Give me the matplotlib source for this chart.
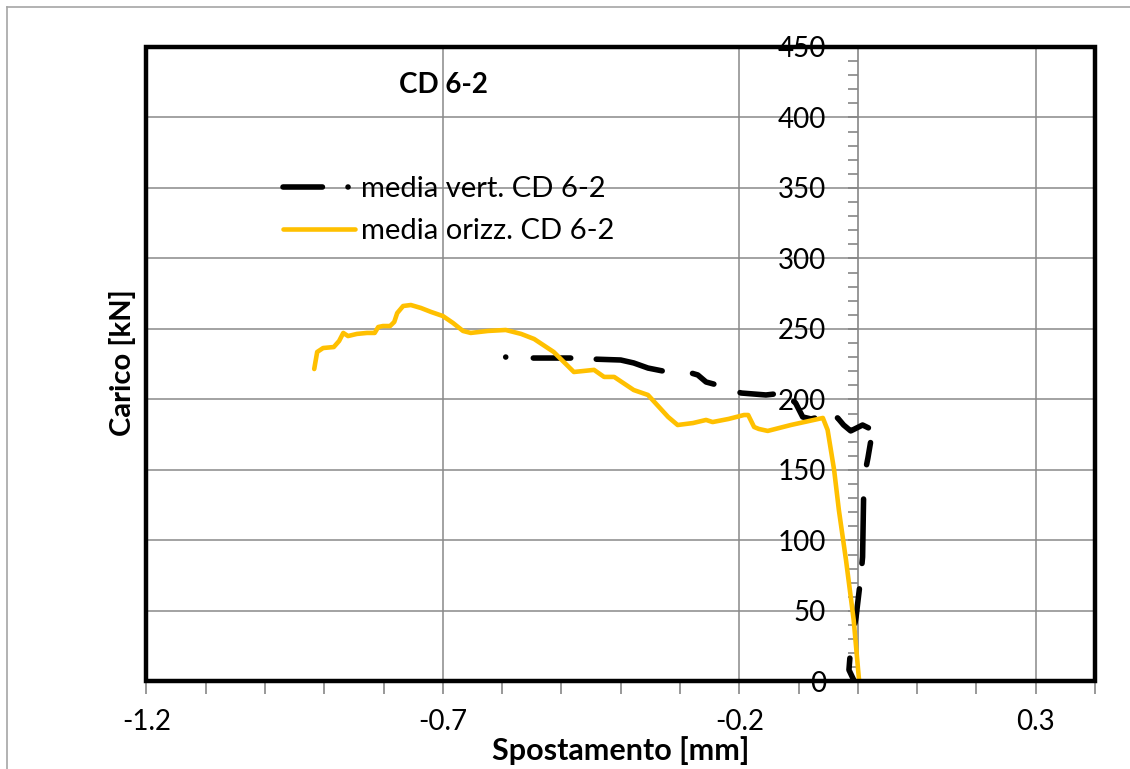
import numpy as np
import matplotlib.pyplot as plt
from matplotlib.ticker import MultipleLocator, FixedLocator
from matplotlib.patches import Rectangle
from matplotlib.lines import Line2D

plt.rcParams['font.family'] = ['Lato', 'DejaVu Sans']

# media vert. CD 6-2  (spostamento [mm], carico [kN])
vert_x = [-0.594, -0.556, -0.484, -0.450, -0.400, -0.378, -0.354, -0.329, -0.287,
          -0.270, -0.256, -0.219, -0.197, -0.155, -0.125, -0.105, -0.093, -0.079,
          -0.051, -0.034, -0.024, -0.012, 0.008, 0.025, 0.017, 0.013, 0.010,
          0.008, 0.005, -0.003, -0.012, -0.015, -0.007]
vert_y = [230.1, 229.4, 229.4, 228.7, 228.0, 225.9, 222.3, 220.2, 219.5,
          217.4, 212.4, 208.2, 204.6, 203.2, 204.6, 197.5, 187.6, 186.2,
          189.0, 186.9, 181.9, 177.7, 181.9, 178.4, 158.5, 150.0, 137.9,
          88.3, 74.1, 45.7, 24.5, 8.2, 1.1]

# media orizz. CD 6-2
orizz_x = [-0.917, -0.912, -0.902, -0.884, -0.875, -0.868, -0.860, -0.845, -0.828,
           -0.815, -0.809, -0.801, -0.789, -0.782, -0.777, -0.767, -0.754, -0.737,
           -0.720, -0.700, -0.683, -0.666, -0.653, -0.624, -0.594, -0.568, -0.546,
           -0.513, -0.479, -0.445, -0.428, -0.411, -0.378, -0.354, -0.320, -0.304,
           -0.278, -0.256, -0.245, -0.218, -0.192, -0.185, -0.175, -0.167, -0.152,
           -0.113, -0.059, -0.051, -0.040, -0.032, -0.020, -0.007, 0.002]
orizz_y = [221.6, 233.7, 236.5, 237.2, 241.5, 247.2, 245.0, 246.5, 247.2,
           247.2, 251.4, 252.1, 252.1, 255.0, 261.3, 266.3, 267.0, 264.9,
           262.1, 259.2, 254.3, 248.6, 247.2, 248.6, 249.3, 246.5, 242.9,
           233.7, 219.5, 221.0, 216.0, 216.0, 206.7, 203.2, 187.6, 181.9,
           183.3, 185.5, 184.0, 186.2, 189.0, 189.0, 180.5, 179.1, 177.7,
           181.9, 186.9, 178.4, 150.0, 121.6, 86.2, 43.6, 1.1]

x_ticks = [-1.2, -0.7, -0.2, 0.3]
x_ticklabels = ['-1.2', '-0.7', '-0.2', '0.3']

DPI = 100
LW_VERT = 4.0
LW_PX = LW_VERT * DPI / 72


def dash_seq(visible_px):
    # lunghezze visibili (px) tratto/spazio -> sequenza in unita' di spessore,
    # tenendo conto delle estremita' arrotondate
    seq = []
    for k, v in enumerate(visible_px):
        if k % 2 == 0:
            seq.append(max(v - LW_PX, 0.05) / LW_PX)
        else:
            seq.append((v + LW_PX) / LW_PX)
    return seq


# tratteggio irregolare della curva (punto iniziale e poi tratti)
curve_dash = dash_seq([0, 22, 43, 20, 73, 25, 30, 22, 39, 18, 36, 18, 44, 12,
                       28, 29, 70, 20, 40, 30, 60, 30])
legend_dash = dash_seq([45, 20, 0, 20])

fig = plt.figure(figsize=(11.3, 7.69), dpi=DPI)
ax = fig.add_axes([0.1296, 0.1138, 0.8394, 0.8251])

ax.plot(vert_x, vert_y, color='black', lw=LW_VERT, linestyle=(0, curve_dash),
        dash_capstyle='round', dash_joinstyle='round', zorder=3)
ax.plot(orizz_x, orizz_y, color='#FFC000', lw=3.3, solid_capstyle='round',
        solid_joinstyle='round', zorder=4)

ax.set_xlim(-1.2, 0.4)
ax.set_ylim(0, 450)

gray = '#868686'
# asse verticale sullo zero, cornice nera attorno all'area del grafico
ax.spines['left'].set_position(('data', 0))
ax.spines['left'].set_color(gray)
ax.spines['left'].set_linewidth(1.2)
ax.spines['bottom'].set_color(gray)
ax.spines['bottom'].set_linewidth(1.2)
ax.spines['top'].set_visible(False)
ax.spines['right'].set_visible(False)
ax.add_patch(Rectangle((0, 0), 1, 1, transform=ax.transAxes, fill=False,
                       ec='black', lw=3.2, clip_on=False, zorder=6))

ax.set_xticks(x_ticks, x_ticklabels)
ax.xaxis.set_minor_locator(FixedLocator(np.arange(-1.2, 0.41, 0.1)))
ax.yaxis.set_major_locator(MultipleLocator(50))
ax.yaxis.set_minor_locator(MultipleLocator(10))
ax.tick_params(axis='x', which='both', direction='out', color=gray, width=1.2, length=9)
ax.tick_params(axis='x', which='major', labelsize=20, pad=10.5)
ax.tick_params(axis='y', which='both', direction='out', color=gray, width=1.2, length=7)
ax.tick_params(axis='y', which='major', labelsize=20, pad=16)

ax.grid(True, which='major', color='#898989', lw=1.1)
ax.set_axisbelow(True)

ax.text(0.3126, 0.940, 'CD 6-2', transform=ax.transAxes, ha='center', va='center',
        fontsize=20, fontweight='bold')

handles = [
    Line2D([], [], color='black', lw=LW_VERT, linestyle=(0, legend_dash),
           dash_capstyle='round'),
    Line2D([], [], color='#FFC000', lw=3.3, solid_capstyle='round'),
]
ax.legend(handles, ['media vert. CD 6-2', 'media orizz. CD 6-2'],
          loc='upper left', bbox_to_anchor=(0.144, 0.797), frameon=False, fontsize=21,
          handlelength=2.47, handletextpad=0.2, labelspacing=0.57,
          borderpad=0, borderaxespad=0)

fig.text(0.1088, 0.528, 'Carico [kN]', rotation=90, ha='center', va='center',
         fontsize=21, fontweight='bold')
fig.text(0.5496, 0.024, 'Spostamento [mm]', ha='center', va='center',
         fontsize=22, fontweight='bold')

# bordo esterno grigio
fig.add_artist(Line2D([7 / 1130, 7 / 1130], [0, 1 - 7 / 769], transform=fig.transFigure,
                      color='#A6A6A6', lw=1.2))
fig.add_artist(Line2D([7 / 1130, 1], [1 - 7 / 769, 1 - 7 / 769], transform=fig.transFigure,
                      color='#A6A6A6', lw=1.2))

fig.savefig('out.png', dpi=DPI)
